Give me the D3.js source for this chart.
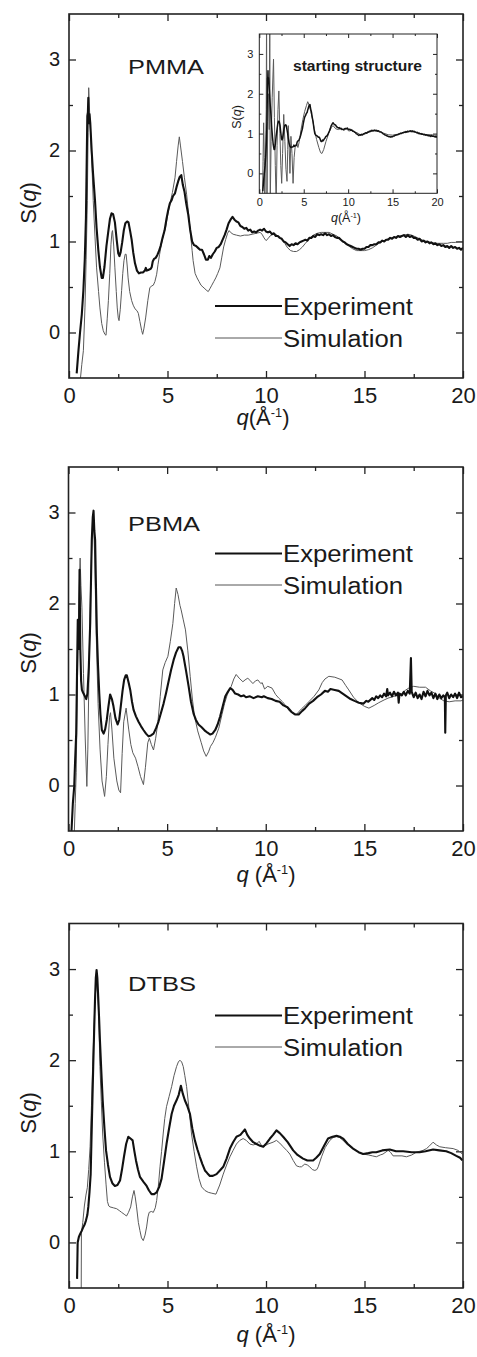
<!DOCTYPE html>
<html><head><meta charset="utf-8">
<script src="https://cdn.jsdelivr.net/npm/d3@7"></script>
<style>html,body{margin:0;padding:0;background:#fff;}svg{display:block;}</style>
</head><body>
<script>
// ---------- DATA ----------
const xMajorTicks = [0, 5, 10, 15, 20];
const xMinorTicks = [2.5, 7.5, 12.5, 17.5];
const yMajorTicks = [0, 1, 2, 3];
const yMinorTicks = [0.5, 1.5, 2.5];
const seriesNames = ["Experiment", "Simulation"];
const panelNames = ["PMMA", "PBMA", "DTBS"];

const pmmaExp = [[0.39,-0.45],[0.48,-0.2],[0.56,0.0],[0.65,0.2],[0.73,0.46],[0.8,0.8],[0.86,1.26],[0.9,1.9],[0.93,2.38],[0.96,2.42],[0.98,2.58],[1.0,2.3],[1.04,2.4],[1.08,2.3],[1.15,2.0],[1.22,1.75],[1.32,1.45],[1.4,1.15],[1.49,0.9],[1.57,0.72],[1.66,0.6],[1.72,0.6],[1.8,0.72],[1.9,0.95],[2.0,1.12],[2.08,1.25],[2.16,1.31],[2.24,1.3],[2.33,1.21],[2.42,1.02],[2.5,0.87],[2.56,0.84],[2.62,0.88],[2.7,0.99],[2.78,1.12],[2.86,1.2],[2.95,1.22],[3.02,1.21],[3.1,1.12],[3.18,1.02],[3.26,0.88],[3.35,0.76],[3.45,0.68],[3.55,0.65],[3.65,0.66],[3.75,0.66],[3.85,0.68],[3.9,0.71],[3.95,0.68],[4.05,0.69],[4.15,0.7],[4.2,0.72],[4.25,0.78],[4.32,0.81],[4.4,0.82],[4.48,0.85],[4.56,0.89],[4.65,0.95],[4.75,1.04],[4.85,1.12],[4.95,1.25],[5.04,1.35],[5.12,1.42],[5.2,1.45],[5.28,1.5],[5.38,1.53],[5.46,1.6],[5.54,1.66],[5.62,1.71],[5.7,1.73],[5.78,1.62],[5.86,1.55],[5.95,1.42],[6.05,1.3],[6.15,1.13],[6.25,1.0],[6.35,0.96],[6.45,0.95],[6.55,0.93],[6.65,0.91],[6.75,0.91],[6.85,0.86],[6.95,0.8],[7.05,0.8],[7.12,0.84],[7.2,0.82],[7.3,0.86],[7.4,0.89],[7.5,0.93],[7.6,0.94],[7.7,0.97],[7.8,1.02],[7.9,1.07],[8.0,1.13],[8.1,1.2],[8.2,1.24],[8.3,1.27],[8.4,1.24],[8.5,1.22],[8.6,1.21],[8.7,1.17],[8.8,1.16],[8.9,1.14],[9.0,1.15],[9.1,1.12],[9.2,1.13],[9.3,1.1],[9.4,1.11],[9.5,1.1],[9.6,1.12],[9.7,1.13],[9.8,1.12],[9.9,1.14],[10.0,1.11],[10.1,1.1],[10.2,1.11],[10.3,1.08],[10.4,1.09],[10.5,1.06],[10.6,1.06],[10.7,1.04],[10.8,1.03],[10.9,1.0],[11.0,0.99],[11.1,0.97],[11.2,0.95],[11.3,0.97],[11.4,0.96],[11.5,0.98],[11.6,0.97],[11.7,0.99],[11.8,1.0],[11.9,1.01],[12.0,1.02],[12.1,1.01],[12.2,1.04],[12.3,1.04],[12.4,1.06],[12.5,1.05],[12.6,1.08],[12.7,1.07],[12.8,1.08],[12.9,1.07],[13.0,1.09],[13.1,1.07],[13.2,1.08],[13.3,1.06],[13.4,1.07],[13.5,1.05],[13.6,1.04],[13.7,1.04],[13.8,1.02],[13.9,1.0],[14.0,0.99],[14.1,0.97],[14.2,0.96],[14.3,0.95],[14.4,0.94],[14.5,0.93],[14.6,0.92],[14.7,0.92],[14.8,0.91],[14.9,0.92],[15.0,0.92],[15.1,0.94],[15.2,0.94],[15.3,0.96],[15.4,0.96],[15.5,0.97],[15.6,0.97],[15.7,0.99],[15.8,0.99],[15.9,1.01],[16.0,1.0],[16.1,1.02],[16.2,1.02],[16.3,1.04],[16.4,1.03],[16.5,1.05],[16.6,1.04],[16.7,1.06],[16.8,1.05],[16.9,1.06],[17.0,1.07],[17.1,1.05],[17.2,1.07],[17.3,1.05],[17.4,1.06],[17.5,1.04],[17.6,1.04],[17.7,1.02],[17.8,1.03],[17.9,1.0],[18.0,1.01],[18.1,0.99],[18.2,1.0],[18.3,0.98],[18.4,0.99],[18.5,0.97],[18.6,0.98],[18.7,0.96],[18.8,0.97],[18.9,0.95],[19.0,0.96],[19.1,0.94],[19.2,0.95],[19.3,0.93],[19.4,0.95],[19.5,0.93],[19.6,0.94],[19.7,0.92],[19.8,0.93],[19.9,0.91],[20.0,0.93]];

const pmmaSim = [[0.56,-0.55],[0.65,-0.35],[0.73,-0.2],[0.81,0.27],[0.87,0.8],[0.93,1.45],[0.97,2.2],[1.0,2.69],[1.05,2.4],[1.1,2.18],[1.17,1.8],[1.23,1.45],[1.32,1.05],[1.4,0.71],[1.5,0.45],[1.57,0.27],[1.66,0.1],[1.74,0.02],[1.82,-0.02],[1.88,-0.03],[1.94,0.15],[2.0,0.35],[2.07,0.65],[2.13,0.97],[2.18,1.1],[2.21,1.12],[2.27,0.95],[2.33,0.71],[2.4,0.45],[2.45,0.27],[2.5,0.16],[2.54,0.13],[2.6,0.25],[2.67,0.46],[2.73,0.65],[2.79,0.79],[2.85,0.86],[2.9,0.86],[2.96,0.72],[3.0,0.6],[3.08,0.45],[3.18,0.35],[3.26,0.3],[3.35,0.26],[3.45,0.24],[3.52,0.21],[3.6,0.12],[3.69,0.02],[3.74,-0.02],[3.8,0.04],[3.89,0.16],[4.0,0.35],[4.1,0.49],[4.18,0.51],[4.28,0.52],[4.36,0.56],[4.45,0.64],[4.52,0.75],[4.6,0.86],[4.7,0.98],[4.8,1.08],[4.9,1.15],[5.0,1.28],[5.12,1.41],[5.25,1.54],[5.38,1.7],[5.46,1.88],[5.54,2.05],[5.6,2.15],[5.66,2.05],[5.76,1.88],[5.86,1.7],[5.97,1.52],[6.07,1.3],[6.17,1.08],[6.25,0.9],[6.3,0.79],[6.4,0.65],[6.5,0.6],[6.6,0.56],[6.7,0.52],[6.8,0.5],[6.9,0.48],[7.0,0.46],[7.07,0.45],[7.15,0.48],[7.25,0.52],[7.35,0.56],[7.45,0.6],[7.55,0.65],[7.66,0.71],[7.75,0.82],[7.85,0.94],[7.95,1.02],[8.05,1.09],[8.13,1.12],[8.2,1.1],[8.33,1.08],[8.5,1.07],[8.7,1.06],[8.9,1.07],[9.1,1.07],[9.3,1.08],[9.5,1.09],[9.7,1.1],[9.8,1.08],[9.9,1.04],[10.0,1.01],[10.1,1.03],[10.2,1.06],[10.35,1.08],[10.5,1.08],[10.65,1.05],[10.8,1.02],[10.95,0.98],[11.1,0.93],[11.25,0.9],[11.4,0.89],[11.55,0.89],[11.7,0.91],[11.85,0.94],[12.0,0.98],[12.2,1.03],[12.4,1.07],[12.6,1.09],[12.8,1.1],[13.0,1.1],[13.2,1.1],[13.4,1.08],[13.6,1.06],[13.8,1.02],[14.0,0.98],[14.2,0.95],[14.4,0.92],[14.6,0.9],[14.8,0.9],[15.0,0.9],[15.2,0.91],[15.4,0.93],[15.6,0.96],[15.8,0.99],[16.0,1.01],[16.2,1.03],[16.4,1.04],[16.6,1.05],[16.8,1.06],[17.0,1.07],[17.2,1.08],[17.4,1.07],[17.6,1.05],[17.8,1.03],[18.0,1.01],[18.2,1.0],[18.4,0.99],[18.6,0.98],[18.8,0.98],[19.0,0.98],[19.2,0.98],[19.4,0.99],[19.6,0.99],[19.8,1.0],[20.0,1.0]];

const pmmaStartSim = [[0.35,-0.8],[0.42,0.3],[0.49,1.27],[0.56,0.4],[0.62,-0.8],[0.7,0.5],[0.78,1.6],[0.82,4.2],[0.86,-0.8],[0.95,1.3],[1.05,2.0],[1.12,1.1],[1.18,4.2],[1.23,-0.8],[1.33,0.8],[1.45,1.9],[1.6,2.87],[1.7,1.4],[1.8,0.2],[1.9,-0.8],[2.0,0.7],[2.1,1.6],[2.2,2.07],[2.32,1.0],[2.42,0.2],[2.52,-0.25],[2.62,0.5],[2.75,1.48],[2.88,0.8],[3.0,0.1],[3.12,-0.2],[3.2,0.6],[3.26,1.2],[3.36,0.7],[3.45,0.0],[3.56,0.93],[3.68,0.5],[3.8,-0.25],[3.92,0.4],[4.05,0.7],[4.2,0.75],[4.35,0.65],[4.5,0.8],[4.7,1.1],[4.9,1.35],[5.1,1.55],[5.3,1.7],[5.45,1.8],[5.6,1.72],[5.8,1.55],[6.0,1.35],[6.2,1.1],[6.45,0.85],[6.7,0.65],[6.9,0.52],[7.05,0.5],[7.25,0.6],[7.5,0.8],[7.8,1.0],[8.1,1.15],[8.3,1.2],[8.6,1.12],[8.9,1.1],[9.2,1.14],[9.5,1.08],[9.8,1.12],[10.1,1.06],[10.4,1.1],[10.7,1.04],[11.0,1.02],[11.3,0.98],[11.6,0.96],[12.0,1.0],[12.5,1.05],[13.0,1.07],[13.5,1.06],[14.0,1.01],[14.5,0.97],[15.0,0.96],[15.5,0.98],[16.0,1.01],[16.5,1.03],[17.0,1.05],[17.5,1.04],[18.0,1.01],[18.5,0.98],[19.0,0.97],[19.5,0.97],[20.0,0.96]];

const pbmaExp = [[0.14,-0.55],[0.22,-0.2],[0.29,-0.01],[0.34,0.3],[0.39,0.57],[0.43,1.2],[0.47,1.82],[0.5,1.6],[0.53,1.5],[0.56,2.37],[0.6,1.5],[0.64,1.15],[0.68,1.05],[0.72,1.03],[0.76,1.01],[0.83,0.98],[0.9,0.95],[0.96,1.01],[1.03,1.3],[1.1,1.78],[1.18,2.7],[1.23,2.95],[1.27,3.02],[1.31,2.8],[1.35,2.7],[1.4,2.1],[1.44,1.67],[1.5,1.3],[1.56,1.01],[1.62,0.78],[1.69,0.61],[1.78,0.57],[1.86,0.62],[1.94,0.72],[2.02,0.86],[2.11,1.0],[2.2,0.95],[2.28,0.87],[2.38,0.74],[2.49,0.67],[2.57,0.72],[2.65,0.87],[2.74,1.04],[2.82,1.16],[2.9,1.21],[2.96,1.21],[3.05,1.13],[3.13,1.05],[3.22,0.92],[3.3,0.83],[3.42,0.76],[3.55,0.7],[3.68,0.65],[3.8,0.61],[3.93,0.57],[4.06,0.54],[4.18,0.55],[4.31,0.57],[4.44,0.63],[4.56,0.7],[4.69,0.8],[4.82,0.9],[4.95,1.02],[5.07,1.14],[5.2,1.27],[5.33,1.38],[5.45,1.46],[5.58,1.52],[5.68,1.52],[5.76,1.48],[5.83,1.42],[5.96,1.26],[6.09,1.09],[6.21,0.92],[6.34,0.79],[6.46,0.72],[6.59,0.67],[6.75,0.64],[6.93,0.6],[7.05,0.58],[7.19,0.56],[7.3,0.57],[7.44,0.61],[7.56,0.67],[7.69,0.76],[7.82,0.87],[7.95,0.98],[8.08,1.03],[8.2,1.07],[8.32,1.05],[8.45,1.01],[8.6,1.0],[8.75,0.98],[8.88,0.99],[9.0,0.97],[9.2,0.98],[9.38,0.96],[9.6,0.98],[9.8,0.97],[9.9,0.98],[10.1,0.96],[10.3,0.95],[10.5,0.93],[10.7,0.92],[10.9,0.88],[11.1,0.86],[11.3,0.81],[11.5,0.78],[11.67,0.78],[11.85,0.82],[12.0,0.85],[12.2,0.9],[12.4,0.93],[12.6,0.97],[12.8,1.0],[13.0,1.04],[13.15,1.03],[13.28,1.06],[13.5,1.05],[13.7,1.04],[13.9,1.01],[14.1,0.98],[14.3,0.95],[14.5,0.93],[14.72,0.91],[14.96,0.9],[15.1,0.93],[15.2,0.92],[15.4,0.96],[15.5,0.94],[15.6,0.98],[15.7,0.96],[15.8,0.99],[15.9,0.97],[16.0,1.01],[16.1,0.98],[16.16,1.06],[16.2,0.99],[16.3,1.02],[16.4,0.98],[16.5,1.03],[16.6,0.99],[16.7,1.02],[16.74,0.91],[16.78,1.01],[16.9,0.99],[17.0,1.03],[17.1,0.99],[17.2,1.04],[17.3,1.01],[17.36,1.4],[17.4,1.03],[17.5,0.97],[17.6,1.02],[17.7,0.96],[17.8,1.0],[17.9,0.95],[18.0,1.03],[18.1,0.98],[18.2,1.04],[18.3,0.99],[18.4,1.02],[18.5,0.96],[18.6,1.01],[18.7,0.95],[18.8,1.0],[18.9,0.96],[19.0,0.99],[19.08,0.97],[19.1,0.58],[19.13,0.99],[19.2,1.02],[19.3,0.96],[19.4,1.0],[19.5,0.97],[19.6,1.01],[19.7,0.96],[19.8,1.02],[19.9,0.97],[20.0,0.98]];

const pbmaSim = [[0.29,-0.55],[0.34,-0.2],[0.39,0.14],[0.46,1.23],[0.52,2.0],[0.59,2.5],[0.63,2.2],[0.68,1.96],[0.76,1.23],[0.85,0.5],[0.93,-0.01],[0.98,0.4],[1.05,1.4],[1.12,2.2],[1.2,2.75],[1.27,2.9],[1.33,2.5],[1.4,1.7],[1.5,0.9],[1.6,0.4],[1.7,0.05],[1.83,-0.12],[1.92,0.1],[2.0,0.45],[2.08,0.75],[2.13,0.8],[2.2,0.62],[2.3,0.3],[2.45,0.05],[2.55,-0.05],[2.64,-0.08],[2.72,0.35],[2.8,0.7],[2.92,0.85],[3.05,0.62],[3.16,0.45],[3.26,0.36],[3.4,0.3],[3.52,0.21],[3.65,0.1],[3.8,0.01],[3.9,0.2],[4.02,0.47],[4.1,0.52],[4.2,0.45],[4.31,0.39],[4.42,0.52],[4.53,0.69],[4.65,0.98],[4.78,1.27],[4.9,1.35],[5.04,1.42],[5.16,1.58],[5.29,1.78],[5.38,2.0],[5.46,2.17],[5.55,2.1],[5.65,1.98],[5.71,1.93],[5.82,1.82],[5.93,1.71],[6.05,1.48],[6.17,1.2],[6.28,0.95],[6.39,0.76],[6.55,0.6],[6.73,0.47],[6.85,0.38],[6.98,0.32],[7.1,0.37],[7.2,0.43],[7.32,0.47],[7.45,0.53],[7.62,0.63],[7.78,0.78],[7.91,0.9],[8.05,1.0],[8.25,1.09],[8.38,1.17],[8.5,1.22],[8.65,1.18],[8.84,1.14],[8.95,1.16],[9.09,1.18],[9.22,1.15],[9.35,1.12],[9.48,1.15],[9.6,1.16],[9.75,1.12],[9.82,1.13],[9.94,1.06],[10.1,1.09],[10.32,1.07],[10.5,1.0],[10.66,0.96],[10.85,0.92],[11.0,0.88],[11.2,0.82],[11.4,0.79],[11.55,0.78],[11.8,0.84],[12.0,0.88],[12.18,0.92],[12.45,0.98],[12.69,1.05],[12.86,1.13],[13.0,1.17],[13.2,1.2],[13.5,1.19],[13.87,1.16],[14.05,1.1],[14.21,1.05],[14.45,0.97],[14.72,0.91],[15.0,0.87],[15.23,0.85],[15.5,0.88],[15.73,0.91],[16.0,0.94],[16.2,0.96],[16.5,0.98],[16.9,1.01],[17.1,1.05],[17.25,1.07],[17.5,1.09],[17.8,1.08],[18.1,1.08],[18.35,1.04],[18.6,1.01],[18.8,0.96],[19.03,0.93],[19.3,0.92],[19.6,0.93],[19.9,0.93],[20.0,0.94]];

const dtbsExp = [[0.41,-0.4],[0.44,0.0],[0.5,0.06],[0.56,0.09],[0.65,0.13],[0.73,0.17],[0.8,0.2],[0.86,0.24],[0.93,0.3],[0.98,0.39],[1.04,0.55],[1.1,0.75],[1.16,1.3],[1.23,1.93],[1.28,2.35],[1.32,2.66],[1.36,2.9],[1.4,2.99],[1.44,2.9],[1.49,2.66],[1.53,2.45],[1.57,2.22],[1.64,1.88],[1.71,1.56],[1.8,1.25],[1.88,1.01],[1.98,0.85],[2.08,0.72],[2.2,0.65],[2.33,0.62],[2.46,0.63],[2.59,0.68],[2.69,0.8],[2.79,0.94],[2.9,1.08],[3.01,1.16],[3.12,1.14],[3.23,1.12],[3.32,1.0],[3.4,0.9],[3.5,0.8],[3.6,0.72],[3.7,0.69],[3.8,0.66],[3.94,0.62],[4.06,0.57],[4.19,0.53],[4.32,0.53],[4.45,0.55],[4.58,0.61],[4.7,0.7],[4.82,0.88],[4.95,1.08],[5.08,1.25],[5.21,1.41],[5.33,1.5],[5.46,1.56],[5.57,1.62],[5.68,1.72],[5.78,1.63],[5.88,1.56],[6.0,1.5],[6.14,1.41],[6.26,1.25],[6.39,1.12],[6.52,1.02],[6.64,0.94],[6.77,0.86],[6.9,0.79],[7.02,0.76],[7.15,0.73],[7.3,0.73],[7.49,0.75],[7.66,0.79],[7.83,0.83],[8.0,0.92],[8.17,1.03],[8.33,1.1],[8.5,1.16],[8.7,1.18],[8.93,1.24],[9.05,1.18],[9.18,1.14],[9.35,1.1],[9.52,1.08],[9.7,1.06],[9.86,1.05],[10.03,1.09],[10.2,1.14],[10.36,1.18],[10.53,1.23],[10.7,1.2],[10.87,1.16],[11.1,1.1],[11.38,1.01],[11.6,0.96],[11.88,0.92],[12.1,0.9],[12.39,0.9],[12.55,0.93],[12.73,0.97],[12.95,1.06],[13.15,1.14],[13.38,1.16],[13.58,1.17],[13.75,1.16],[13.91,1.14],[14.15,1.08],[14.42,1.03],[14.7,0.99],[14.93,0.97],[15.2,0.98],[15.4,0.99],[15.6,0.99],[15.9,1.01],[16.28,1.02],[16.6,1.0],[16.96,1.0],[17.4,0.99],[17.8,0.99],[18.1,1.0],[18.48,1.02],[18.8,1.01],[19.15,1.0],[19.4,0.98],[19.66,0.95],[19.85,0.93],[19.97,0.9]];

const dtbsSim = [[0.62,-0.55],[0.63,0.1],[0.7,0.22],[0.78,0.4],[0.86,0.52],[0.93,0.6],[1.0,0.8],[1.07,1.05],[1.14,1.5],[1.2,1.93],[1.26,2.3],[1.32,2.66],[1.36,2.8],[1.4,2.84],[1.44,2.75],[1.49,2.59],[1.53,2.3],[1.57,1.93],[1.64,1.55],[1.71,1.19],[1.8,0.88],[1.88,0.64],[1.95,0.45],[2.02,0.4],[2.08,0.39],[2.25,0.38],[2.42,0.37],[2.55,0.35],[2.67,0.33],[2.8,0.31],[2.92,0.29],[3.02,0.33],[3.13,0.39],[3.22,0.5],[3.3,0.57],[3.36,0.5],[3.43,0.39],[3.52,0.22],[3.6,0.13],[3.68,0.05],[3.77,0.02],[3.86,0.08],[3.94,0.17],[4.01,0.28],[4.07,0.33],[4.18,0.34],[4.28,0.33],[4.38,0.38],[4.45,0.46],[4.54,0.63],[4.62,0.83],[4.7,1.0],[4.78,1.19],[4.86,1.36],[4.95,1.49],[5.08,1.6],[5.21,1.71],[5.33,1.83],[5.46,1.93],[5.55,1.98],[5.63,2.0],[5.72,1.98],[5.8,1.93],[5.88,1.83],[5.97,1.71],[6.1,1.45],[6.22,1.19],[6.35,1.0],[6.48,0.83],[6.6,0.7],[6.73,0.61],[6.9,0.57],[7.07,0.55],[7.25,0.54],[7.46,0.53],[7.65,0.63],[7.83,0.75],[8.0,0.85],[8.17,0.94],[8.33,1.01],[8.5,1.08],[8.67,1.12],[8.84,1.14],[9.0,1.12],[9.18,1.08],[9.35,1.07],[9.52,1.08],[9.65,1.11],[9.75,1.07],[9.86,1.05],[10.1,1.08],[10.36,1.1],[10.53,1.12],[10.7,1.09],[10.87,1.05],[11.05,1.01],[11.21,0.97],[11.38,0.9],[11.55,0.84],[11.7,0.83],[11.8,0.83],[11.97,0.86],[12.1,0.85],[12.22,0.83],[12.35,0.8],[12.48,0.79],[12.58,0.8],[12.65,0.83],[12.82,0.94],[13.0,1.04],[13.24,1.12],[13.4,1.15],[13.58,1.16],[13.75,1.15],[13.91,1.12],[14.15,1.07],[14.42,1.03],[14.7,0.99],[14.93,0.97],[15.2,0.96],[15.4,0.95],[15.6,0.94],[15.8,0.96],[15.94,0.97],[16.2,1.01],[16.32,0.99],[16.45,0.95],[16.7,0.95],[16.9,0.95],[17.13,0.94],[17.4,0.96],[17.63,0.99],[17.97,1.01],[18.15,1.03],[18.3,1.06],[18.48,1.1],[18.65,1.07],[18.82,1.05],[19.1,1.04],[19.5,1.03],[19.75,1.01],[19.97,0.97]];

// ---------- DRAW ----------
const W = 477, H = 1357;
const FONT = "'Liberation Sans', Arial, Helvetica, sans-serif";
const TXT = "#1a1a1a";
const svg = d3.select("body").append("svg").attr("width", W).attr("height", H)
  .attr("font-family", FONT);

let clipId = 0;
function drawPlot(cfg) {
  const x = d3.scaleLinear().domain([0, 20]).range([cfg.l, cfg.r]);
  const y = d3.scaleLinear().domain([-0.5, 3.5]).range([cfg.b, cfg.t]);
  const g = svg.append("g");
  const id = "clip" + (clipId++);
  g.append("clipPath").attr("id", id).append("rect")
    .attr("x", cfg.l).attr("y", cfg.t).attr("width", cfg.r - cfg.l).attr("height", cfg.b - cfg.t);

  const M = cfg.major, m = cfg.minor;
  function axis(gen, tv, size, tr, labels) {
    const a = g.append("g").attr("transform", tr)
      .call(gen.tickValues(tv).tickSize(-size).tickPadding(9)
        .tickFormat(labels ? d3.format("d") : ""));
    a.select(".domain").remove();
    a.selectAll("line").attr("stroke", "#222").attr("stroke-width", cfg.tickW);
    return a;
  }
  const bx = axis(d3.axisBottom(x), xMajorTicks, M, `translate(0,${cfg.b})`, true);
  axis(d3.axisBottom(x), xMinorTicks, m, `translate(0,${cfg.b})`, false);
  axis(d3.axisTop(x), xMajorTicks, M, `translate(0,${cfg.t})`, false);
  axis(d3.axisTop(x), xMinorTicks, m, `translate(0,${cfg.t})`, false);
  const ly = axis(d3.axisLeft(y), yMajorTicks, M, `translate(${cfg.l},0)`, true);
  axis(d3.axisLeft(y), yMinorTicks, m, `translate(${cfg.l},0)`, false);
  axis(d3.axisRight(y), yMajorTicks, M, `translate(${cfg.r},0)`, false);
  axis(d3.axisRight(y), yMinorTicks, m, `translate(${cfg.r},0)`, false);

  bx.selectAll("text").attr("font-size", cfg.xFs).attr("fill", TXT)
    .attr("font-family", FONT).attr("y", cfg.xPad);
  ly.selectAll("text").attr("font-size", cfg.yFs).attr("fill", TXT)
    .attr("font-family", FONT).attr("x", -cfg.yPad);

  const line = d3.line().x(d => x(d[0])).y(d => y(d[1]));
  const cg = g.append("g").attr("clip-path", `url(#${id})`);
  cfg.series.forEach(s => {
    cg.append("path").datum(s.data).attr("d", line).attr("fill", "none")
      .attr("stroke", s.color).attr("stroke-width", s.w).attr("stroke-linejoin", "round");
  });

  g.append("rect").attr("x", cfg.l).attr("y", cfg.t)
    .attr("width", cfg.r - cfg.l).attr("height", cfg.b - cfg.t)
    .attr("fill", "none").attr("stroke", "#222").attr("stroke-width", cfg.frameW);

  // x title
  const xt = g.append("text").attr("x", cfg.xtX).attr("y", cfg.xtY)
    .attr("text-anchor", "middle").attr("font-size", cfg.tFs).attr("fill", TXT);
  xt.append("tspan").attr("font-style", "italic").text("q");
  xt.append("tspan").text((cfg.xtSpace ? " " : "") + "(Å");
  xt.append("tspan").attr("font-size", cfg.tFs * 0.58).attr("dy", -cfg.tFs * 0.36).text("-1");
  xt.append("tspan").attr("dy", cfg.tFs * 0.36).text(")");

  // y title
  const yt = g.append("text").attr("transform", `translate(${cfg.ytX},${cfg.ytY}) rotate(-90)`)
    .attr("text-anchor", "middle").attr("font-size", cfg.tFs).attr("fill", TXT);
  yt.append("tspan").text("S(");
  yt.append("tspan").attr("font-style", "italic").text("q");
  yt.append("tspan").text(")");
  return { x, y, g };
}

function legend(lx1, lx2, yE, yS, baseOff, fs) {
  const items = [
    { y: yE, w: 2.2, c: "#111", t: seriesNames[0], len: 130 },
    { y: yS, w: 1, c: "#555", t: seriesNames[1], len: 120 }
  ];
  items.forEach(it => {
    svg.append("line").attr("x1", lx1).attr("x2", lx2).attr("y1", it.y).attr("y2", it.y)
      .attr("stroke", it.c).attr("stroke-width", it.w);
    svg.append("text").attr("x", lx2 + 1).attr("y", it.y + baseOff).attr("font-size", fs)
      .attr("fill", TXT).attr("textLength", it.len).attr("lengthAdjust", "spacingAndGlyphs").text(it.t);
  });
}
function panelLabel(txt, xx, yy, len) {
  svg.append("text").attr("x", xx).attr("y", yy).attr("font-size", 20).attr("fill", TXT)
    .attr("textLength", len).attr("lengthAdjust", "spacingAndGlyphs").text(txt);
}

const mainCfg = { major: 7, minor: 4, tickW: 1.3, frameW: 1.6, xFs: 22, yFs: 20, tFs: 22, xPad: 9, yPad: 9 };

// Panel 1 PMMA
drawPlot(Object.assign({}, mainCfg, {
  l: 69, r: 463, t: 14, b: 378, xtX: 263, xtY: 425, xtSpace: false, ytX: 36, ytY: 203,
  series: [{ data: pmmaSim, color: "#5a5a5a", w: 1 }, { data: pmmaExp, color: "#111", w: 2.1 }]
}));
panelLabel(panelNames[0], 128, 74, 76);
legend(215, 282, 306, 338, 9, 23);

// Inset
drawPlot({
  major: 4, minor: 2, tickW: 1, frameW: 1, xFs: 11, yFs: 11, tFs: 12.5, xPad: 5, yPad: 6,
  l: 259.3, r: 437, t: 34, b: 193.3, xtX: 346, xtY: 222, xtSpace: false, ytX: 241, ytY: 117,
  series: [{ data: pmmaStartSim, color: "#5a5a5a", w: 1 }, { data: pmmaExp, color: "#111", w: 1.5 }]
});
svg.append("text").attr("x", 293).attr("y", 71).attr("font-size", 14).attr("font-weight", "bold")
  .attr("fill", TXT).attr("textLength", 129).attr("lengthAdjust", "spacingAndGlyphs").text("starting structure");

// Panel 2 PBMA
drawPlot(Object.assign({}, mainCfg, {
  l: 68.5, r: 463, t: 467, b: 831, xtX: 266, xtY: 882, xtSpace: true, ytX: 36, ytY: 653,
  series: [{ data: pbmaSim, color: "#5a5a5a", w: 1 }, { data: pbmaExp, color: "#111", w: 2.1 }]
}));
panelLabel(panelNames[1], 128, 530.5, 72);
legend(215, 282, 553.5, 585, 8.5, 23);

// Panel 3 DTBS
drawPlot(Object.assign({}, mainCfg, {
  l: 69, r: 463, t: 923.5, b: 1288, xtX: 266, xtY: 1342, xtSpace: true, ytX: 36, ytY: 1113,
  series: [{ data: dtbsSim, color: "#5a5a5a", w: 1 }, { data: dtbsExp, color: "#111", w: 2.1 }]
}));
panelLabel(panelNames[2], 128, 990.5, 68);
legend(215, 282, 1015.5, 1047, 8.5, 23);
</script>
</body></html>
